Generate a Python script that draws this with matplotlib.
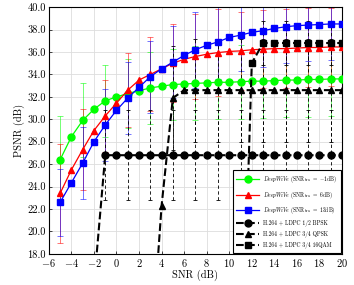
import numpy as np
import matplotlib
matplotlib.use('Agg')
import matplotlib.pyplot as plt

plt.rcParams['font.family'] = 'serif'
plt.rcParams['font.serif'] = ['cmr10', 'DejaVu Serif']
plt.rcParams['mathtext.fontset'] = 'cm'
plt.rcParams['axes.formatter.use_mathtext'] = True

# DeepWiVe curves, SNR -5..20
snr = list(range(-5, 21))
psnr_m1 = [26.4, 28.45, 29.9, 30.9, 31.65, 32.0, 32.3, 32.55, 32.8, 32.95, 33.1,
           33.15, 33.2, 33.25, 33.3, 33.3, 33.35, 33.4, 33.4, 33.45, 33.5, 33.5,
           33.55, 33.55, 33.6, 33.6]
psnr_6 = [23.4, 25.5, 27.3, 29.0, 30.3, 31.45, 32.6, 33.5, 34.0, 34.5, 35.0,
          35.35, 35.6, 35.8, 35.95, 36.05, 36.1, 36.2, 36.25, 36.3, 36.3, 36.35,
          36.4, 36.4, 36.45, 36.45]
psnr_13 = [22.6, 24.35, 26.1, 28.0, 29.5, 30.8, 31.9, 32.85, 33.8, 34.5, 35.1,
           35.7, 36.2, 36.6, 36.9, 37.3, 37.5, 37.75, 37.9, 38.1, 38.25, 38.35,
           38.4, 38.45, 38.5, 38.5]

# error bars at odd SNR -5..19
snr_err = list(range(-5, 20, 2))
err_m1 = [3.9, 3.3, 3.2, 3.1, 3.2, 3.2, 3.3, 3.3, 3.3, 3.3, 3.3, 3.3, 3.3]
err_6 = [4.4, 3.6, 3.2, 3.3, 3.3, 3.5, 3.8, 3.9, 3.5, 3.5, 3.5, 3.5, 3.5]
err_13 = [3.0, 3.2, 3.2, 3.2, 3.2, 3.2, 3.4, 3.3, 3.2, 3.2, 3.2, 3.2, 3.2]

# H.264 + LDPC baselines
snr_bpsk = list(range(-2, 21))
psnr_bpsk = [15.2] + [26.8] * 22
snr_qpsk = list(range(3, 21))
psnr_qpsk = [8.0, 22.3, 31.9] + [32.6] * 15
snr_qam = list(range(11, 21))
psnr_qam = [3.0, 35.0] + [36.8] * 8

err_bpsk_x = list(range(-1, 20, 2))
err_bpsk = [4.0] * len(err_bpsk_x)
err_qpsk_x = list(range(5, 20, 2))
err_qpsk = [4.6] * len(err_qpsk_x)
err_qam_x = list(range(13, 20, 2))
err_qam = [2.0] * len(err_qam_x)

fig = plt.figure(figsize=(3.54, 2.85), dpi=100)
ax = fig.add_axes([0.138, 0.109, 0.828, 0.866])

def bars(xs, ys, xe, e, color, ls='-', alpha=0.55, lw=0.7, cap=2.0):
    ym = dict(zip(xs, ys))
    eb = ax.errorbar(xe, [ym[v] for v in xe], yerr=e, fmt='none', ecolor=color,
                     elinewidth=lw, capsize=cap, capthick=lw, alpha=alpha, zorder=2)
    for lc in eb[2]:
        lc.set_linestyle(ls)

bars(snr, psnr_m1, snr_err, err_m1, '#00ff00')
bars(snr, psnr_6, snr_err, err_6, 'red')
bars(snr, psnr_13, snr_err, err_13, 'blue')
dash = (0, (4, 3))
bars(snr_bpsk, psnr_bpsk, err_bpsk_x, err_bpsk, 'black', dash, 1.0, 0.6, 1.5)
bars(snr_qpsk, psnr_qpsk, err_qpsk_x, err_qpsk, 'black', dash, 1.0, 0.6, 1.5)
bars(snr_qam, psnr_qam, err_qam_x, err_qam, 'black', dash, 1.0, 0.6, 1.5)

ax.plot(snr, psnr_m1, '-o', color='#00ff00', lw=0.9, ms=5.0, zorder=4,
        label=r'$\it{DeepWiVe}$ (SNR$_{\rm tra}$ $=$ $-1$dB)')
ax.plot(snr, psnr_6, '-^', color='red', lw=0.9, ms=5.0, zorder=4,
        label=r'$\it{DeepWiVe}$ (SNR$_{\rm tra}$ $=$ 6dB)')
ax.plot(snr, psnr_13, '-s', color='blue', lw=0.9, ms=4.6, zorder=4,
        label=r'$\it{DeepWiVe}$ (SNR$_{\rm tra}$ $=$ 13dB)')
ax.plot(snr_bpsk, psnr_bpsk, '--o', color='black', lw=1.5, ms=5.0, zorder=5,
        label='H.264 + LDPC 1/2 BPSK')
ax.plot(snr_qpsk, psnr_qpsk, '--^', color='black', lw=1.5, ms=5.0, zorder=5,
        label='H.264 + LDPC 3/4 QPSK')
ax.plot(snr_qam, psnr_qam, '--s', color='black', lw=1.5, ms=5.0, zorder=5,
        label='H.264 + LDPC 3/4 16QAM')

ax.set_xlim(-6, 20)
ax.set_ylim(18, 40)
ax.set_xticks(range(-6, 21, 2))
ax.set_yticks(np.arange(18, 40.1, 2))
ax.set_yticklabels([f'{v:.1f}' for v in np.arange(18, 40.1, 2)])
ax.grid(True, color='#dddddd', lw=0.6)
ax.set_axisbelow(True)
ax.tick_params(labelsize=7.5, direction='in', length=2, width=0.5, pad=2)
for s in ax.spines.values():
    s.set_linewidth(0.8)
ax.set_xlabel('SNR (dB)', fontsize=7.5, labelpad=1)
ax.set_ylabel('PSNR (dB)', fontsize=7.5, labelpad=2)

leg = ax.legend(loc='lower right', fontsize=4.0, frameon=True, fancybox=False,
                edgecolor='black', framealpha=1, borderaxespad=0.15,
                handlelength=4.0, labelspacing=0.75, borderpad=0.7,
                markerscale=1.0, handletextpad=0.8)
leg.get_frame().set_linewidth(0.8)

fig.savefig('out.png', dpi=100)
